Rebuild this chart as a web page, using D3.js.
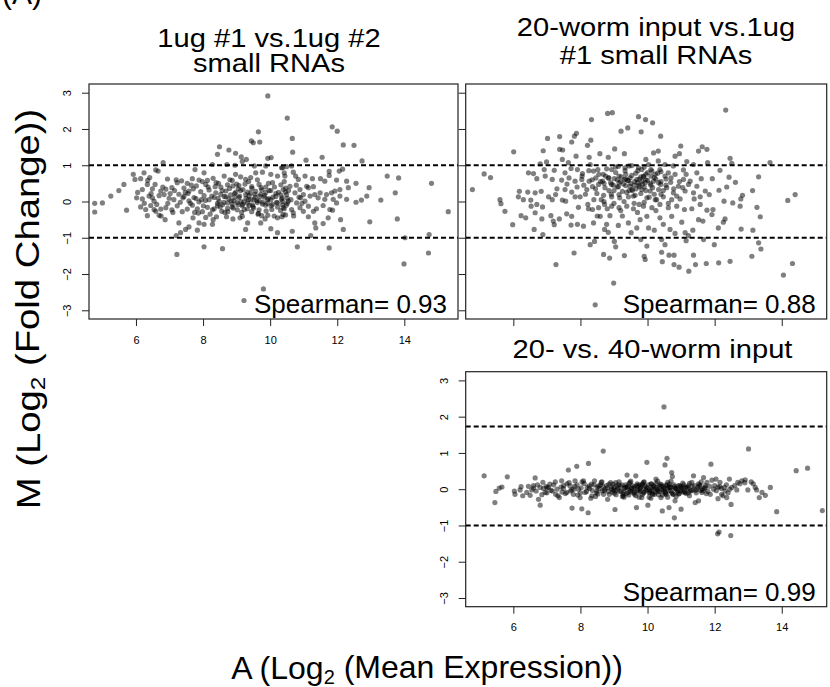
<!DOCTYPE html>
<html>
<head>
<meta charset="utf-8">
<script src="https://cdn.jsdelivr.net/npm/d3@7"></script>
<style>
  body { margin: 0; background: #fff; }
  svg { display: block; }
  text { font-family: "Liberation Sans", Arial, Helvetica, sans-serif; fill: #000; }
</style>
</head>
<body>
<svg id="chart" width="830" height="687"></svg>
<script>
// MA plots as [A, M] pairs
const rep1VsRep2 = [
  [9.93,2.91],[10.51,2.30],[11.85,2.06],[9.80,-2.41],[9.22,-2.73],[13.99,-1.72],
  [9.65,1.92],[9.44,1.67],[9.50,1.62],[9.69,1.64],[8.49,1.51],[8.43,1.30],[8.77,1.42],[8.97,1.33],[9.14,1.23],[9.29,1.16],
  [10.03,1.21],[9.93,1.19],[6.81,1.07],[8.28,1.02],[8.71,1.02],[8.95,1.00],[9.17,1.10],[9.53,0.98],[9.87,0.98],[10.37,0.93],
  [7.76,0.88],[8.03,0.79],[5.92,0.75],[6.24,0.79],[6.59,0.87],[6.66,0.84],[5.97,0.61],[6.14,0.63],[6.41,0.66],[6.94,0.62],
  [7.20,0.60],[7.36,0.57],[7.53,0.50],[7.68,0.63],[7.88,0.59],[7.98,0.55],[8.13,0.58],[8.30,0.64],[8.46,0.50],[8.63,0.70],
  [8.80,0.60],[8.97,0.75],[9.12,0.68],[9.27,0.61],[9.42,0.66],[9.57,0.79],[9.77,0.81],[10.02,0.75],[10.22,0.70],[10.42,0.79],
  [5.64,0.47],[5.49,0.30],[5.25,0.15],[5.00,-0.04],[4.77,-0.05],[4.77,-0.29],[5.72,-0.24],[6.19,0.33],[6.34,0.47],[6.49,0.35],
  [6.57,0.47],[6.74,0.29],[6.89,0.34],[7.07,0.38],[7.23,0.52],[7.43,0.37],[7.58,0.29],[7.80,0.43],[8.08,0.47],[8.18,0.32],
  [8.36,0.41],[8.53,0.40],[8.73,0.46],[8.89,0.43],[9.07,0.44],[9.25,0.48],[9.45,0.41],[9.67,0.47],[9.87,0.40],[10.07,0.52],
  [10.32,0.46],[10.46,0.37],
  [6.02,0.10],[6.19,0.07],[6.39,0.15],[6.54,0.01],[6.69,0.16],[6.84,0.19],[6.99,0.09],[7.13,0.05],[7.28,0.20],[7.43,0.14],
  [7.58,0.02],[7.73,0.11],[7.88,-0.01],[8.03,0.16],[8.18,0.05],[8.33,0.11],[8.48,0.00],[8.63,0.14],[8.77,0.07],[8.92,0.02],
  [9.07,0.11],[9.22,-0.01],[9.37,0.16],[9.52,0.05],[9.67,0.02],[9.82,0.12],[10.02,0.05],[10.17,0.14],[10.37,0.00],[10.51,0.09],
  [6.14,-0.15],[6.29,-0.22],[6.44,-0.11],[6.59,-0.27],[6.74,-0.21],[6.89,-0.17],[7.07,-0.23],[7.23,-0.12],[7.38,-0.28],[7.53,-0.21],
  [7.68,-0.10],[7.83,-0.20],[7.98,-0.28],[8.13,-0.16],[8.28,-0.23],[8.43,-0.12],[8.56,-0.27],[8.73,-0.19],[8.87,-0.15],[9.02,-0.23],
  [9.17,-0.12],[9.32,-0.20],[9.49,-0.14],[9.67,-0.23],[9.87,-0.10],[10.05,-0.22],[10.22,-0.15],[10.42,-0.20],
  [6.34,-0.39],[6.69,-0.38],[6.87,-0.50],[7.28,-0.59],[7.70,-0.45],[7.88,-0.59],[8.08,-0.44],[8.30,-0.50],[8.70,-0.42],[8.89,-0.48],
  [9.17,-0.41],[9.33,-0.59],[9.75,-0.39],[9.93,-0.38],[10.12,-0.40],[10.35,-0.42],[10.46,-0.37],[7.58,-0.70],[7.48,-0.77],[7.33,-0.86],
  [7.20,-0.94],[7.83,-0.79],[8.03,-0.63],[8.28,-0.63],[9.27,-0.77],[9.72,-0.59],[10.02,-0.75],[10.22,-0.86],[7.22,-1.46],[8.03,-1.25],
  [8.58,-1.30],[6.54,-0.22],[6.49,0.10],
  [8.38,0.24],[8.53,0.20],[8.68,0.29],[8.82,0.18],[8.97,0.25],[9.12,0.30],[9.27,0.19],[9.42,0.23],[9.57,0.28],[9.72,0.20],
  [9.87,0.25],[10.02,0.30],[10.17,0.22],[10.32,0.18],[10.46,0.26],[8.43,-0.05],[8.58,-0.09],[8.73,-0.04],[8.87,-0.07],[9.02,-0.03],
  [9.17,-0.08],[9.32,-0.05],[9.47,-0.09],[9.62,-0.03],[9.77,-0.07],[9.92,-0.05],[10.07,-0.08],[10.22,-0.04],[10.37,-0.09],[10.51,-0.05],
  [9.05,0.35],[9.35,0.05],[9.55,0.12],[9.75,0.32],[9.95,0.08],[9.15,-0.30],[9.45,-0.28],[9.65,-0.33],[8.65,-0.30],[8.95,0.12],
  [7.55,0.22],[7.62,-0.05],[7.71,0.35],[7.79,0.08],[7.86,-0.32],[7.93,0.27],[8.01,-0.12],[8.07,0.03],[8.15,0.40],[8.21,-0.35],
  [8.26,0.15],[8.33,-0.20],[8.39,0.52],[8.45,0.09],[8.51,-0.15],[8.57,0.30],[8.62,-0.02],[8.68,0.13],[8.74,-0.28],[8.79,0.36],
  [8.84,0.02],[8.90,-0.18],[8.94,0.22],[9.00,0.48],[9.04,-0.09],[9.09,0.15],[9.13,0.00],[9.19,0.33],[9.23,-0.22],[9.28,0.09],
  [9.33,0.26],[9.38,-0.10],[9.42,0.05],[9.46,0.36],[9.51,-0.18],[9.55,0.20],[9.60,0.02],[9.64,-0.35],[9.69,0.14],[9.73,0.38],
  [9.78,-0.02],[9.83,0.17],[9.88,-0.26],[9.92,0.05],[9.97,0.30],[10.03,-0.12],[10.08,0.12],[10.13,0.40],[10.19,-0.02],[10.25,0.25],
  [10.31,-0.25],[10.36,0.10],[10.42,0.55],[10.48,-0.10],[10.55,0.30],[10.62,0.05],[10.70,-0.40],[10.78,0.45],[10.86,0.12],[10.95,-0.05],
  [9.36,0.55],[9.62,0.60],[8.87,0.58],[9.95,0.50],[10.22,-0.45],[9.10,-0.45],[8.40,-0.42],[9.85,-0.48],[7.40,0.10],[7.10,-0.30],
  [6.05,0.25],[6.25,-0.05],[6.45,0.22],[6.62,-0.08],[6.80,0.40],[6.95,-0.05],[7.02,0.22],[7.15,0.30],[7.32,-0.02],[7.47,0.25],
  [7.65,0.45],[7.75,-0.30],[6.35,0.58],[6.75,-0.40],[7.95,0.05],
  [12.00,1.94],[10.66,1.74],[12.18,1.56],[12.50,1.55],[10.67,1.36],[11.55,1.22],[11.07,1.14],[12.74,1.12],[10.34,0.93],[10.49,0.96],
  [10.64,0.98],[10.69,0.81],[11.76,0.83],[12.06,0.84],[12.16,0.89],[13.49,0.70],[13.83,0.65],[14.81,0.50],[10.44,0.70],[10.76,0.70],
  [11.04,0.70],[11.26,0.63],[11.50,0.63],[11.63,0.56],[11.76,0.72],[11.98,0.59],[12.28,0.56],[12.56,0.50],[12.95,0.38],[12.33,0.38],
  [12.08,0.33],[11.93,0.29],[11.83,0.24],[11.68,0.19],[11.49,0.24],[11.33,0.19],[11.14,0.38],[10.89,0.33],[11.09,0.42],[11.29,0.41],
  [10.59,0.42],[10.39,0.33],[10.49,0.19],[10.74,0.24],[10.99,0.19],[11.19,0.15],[11.43,0.10],[11.63,0.06],[11.88,0.06],[12.08,0.15],
  [12.28,0.06],[12.56,-0.02],[12.72,0.04],[12.88,0.15],[13.30,0.04],[13.73,0.24],[10.34,0.06],[10.54,0.01],[10.79,-0.04],[11.04,0.01],
  [10.39,-0.17],[10.64,-0.22],[10.89,-0.17],[11.14,-0.13],[11.38,-0.20],[11.58,-0.11],[11.78,-0.22],[11.98,-0.04],[10.39,-0.36],[10.69,-0.31],
  [10.99,-0.27],[11.29,-0.27],[11.86,-0.24],[11.14,-0.42],[11.33,-0.59],[11.36,-0.73],[11.58,-0.61],[11.73,-0.45],[12.10,-0.50],[12.18,-0.77],
  [12.97,-0.56],[13.79,-0.48],[11.21,-0.94],[10.66,-0.82],[14.02,-1.00],[14.74,-0.91],[10.81,-1.25],[11.76,-1.28],[14.72,-1.42],[15.31,-0.28],
  [10.84,0.61],[10.91,0.10]
];

const worm20VsRep1 = [
  [8.44,-2.85],[8.99,-2.25],
  [8.81,2.43],[8.95,2.45],[8.33,2.26],[9.73,2.34],[9.21,1.94],[9.41,2.03],[7.88,1.88],[7.82,1.80],[7.74,1.64],
  [7.02,1.74],[7.38,1.79],[8.31,1.69],[8.21,1.55],[7.38,1.44],[7.47,1.42],[6.89,1.40],[6.01,1.37],[9.02,1.45],[9.31,1.32],
  [8.58,1.32],[7.87,1.25],[8.26,1.22],[8.83,1.22],[7.46,1.16],[7.64,1.07],[6.99,1.09],[6.80,1.04],[5.13,0.76],[5.32,0.66],
  [4.78,0.33],[6.45,0.79],[6.60,0.77],[6.92,0.88],[7.22,0.86],[7.54,0.79],[7.72,0.91],[7.91,0.88],[8.06,0.77],[8.29,1.02],
  [8.39,0.84],[8.52,0.88],[8.68,0.75],[8.93,0.88],[9.13,0.97],[9.33,0.93],[9.53,0.99],[9.73,0.93],[6.70,0.63],[6.95,0.70],
  [7.16,0.61],[7.44,0.59],[7.66,0.65],[7.84,0.56],[8.04,0.61],[8.26,0.56],[8.46,0.65],[8.66,0.56],[8.83,0.65],[9.01,0.63],
  [9.15,0.70],[9.31,0.61],[9.48,0.65],[9.68,0.61],[9.83,0.56],[6.18,0.28],[6.43,0.26],[6.65,0.24],[6.83,0.28],[7.05,0.13],
  [7.26,0.19],[7.54,0.33],[7.74,0.26],[7.99,0.13],[8.19,0.33],[8.36,0.41],[8.54,0.47],[8.73,0.38],[8.93,0.47],[9.13,0.41],
  [9.35,0.44],[9.53,0.33],[9.75,0.41],[8.49,0.22],[8.69,0.17],[8.93,0.13],[9.15,0.19],[9.43,0.13],[9.63,0.17],[5.60,0.05],
  [5.63,-0.06],[6.15,0.13],[6.30,0.05],[6.52,0.04],[6.53,-0.13],[6.70,-0.08],[6.87,-0.15],[7.16,0.05],[7.46,0.04],[7.56,0.01],
  [7.84,0.13],[8.22,-0.08],[8.24,-0.20],[8.36,-0.22],[8.54,-0.17],[8.72,-0.08],[8.93,-0.13],[9.15,-0.17],[9.38,-0.13],[9.58,-0.20],
  [9.75,-0.08],[5.75,-0.27],[6.23,-0.39],[6.37,-0.45],[5.98,-0.64],[6.65,-0.31],[6.85,-0.48],[7.12,-0.39],[7.19,-0.54],[7.37,-0.48],
  [7.22,-0.64],[7.59,-0.34],[7.74,-0.41],[7.94,-0.16],[7.72,-0.65],[7.91,-0.63],[8.09,-0.68],[6.62,-0.77],[6.88,-0.91],[8.39,-0.59],
  [8.59,-0.41],[8.78,-0.63],[8.88,-0.39],[9.13,-0.66],[9.43,-0.59],[9.68,-0.73],[9.78,-0.50],[8.72,-0.77],[8.83,-0.85],[9.51,-0.86],
  [8.42,-1.10],[8.29,-1.19],[9.01,-1.10],[9.05,-1.25],[9.80,-1.05],[7.81,-1.42],[8.69,-1.46],[8.87,-1.56],[9.31,-1.49],[7.27,-1.74],
  [12.33,2.52],[9.94,2.26],[10.15,2.17],[9.81,1.92],[10.39,1.80],[10.99,1.53],[11.63,1.51],[11.77,1.44],[11.52,1.39],[10.18,1.34],
  [10.32,1.39],[10.95,1.32],[10.82,1.25],[12.46,1.19],[9.95,1.16],[10.32,1.12],[11.17,1.10],[11.79,1.07],[12.51,1.05],[13.65,1.07],
  [10.03,1.02],[10.52,1.02],[10.77,0.98],[11.37,1.02],[12.16,0.86],[9.83,0.88],[10.13,0.84],[10.37,0.88],[10.62,0.79],[11.07,0.87],
  [11.47,0.79],[9.88,0.70],[10.23,0.75],[10.52,0.70],[10.82,0.75],[11.07,0.61],[11.27,0.56],[11.60,0.63],[11.93,0.63],[12.43,0.67],
  [13.31,0.68],[9.93,0.52],[10.18,0.56],[10.39,0.47],[10.69,0.53],[10.92,0.42],[11.22,0.47],[11.47,0.42],[12.36,0.40],[12.62,0.53],
  [9.83,0.33],[10.08,0.29],[10.33,0.33],[10.57,0.38],[10.77,0.24],[11.12,0.29],[11.37,0.24],[11.72,0.29],[12.13,0.31],[13.13,0.30],
  [9.98,0.10],[10.23,0.05],[10.47,0.13],[10.72,0.05],[10.97,0.07],[11.39,0.07],[11.57,0.13],[11.84,0.19],[12.28,0.01],[12.54,-0.04],
  [12.78,0.07],[12.83,0.17],[14.18,0.03],[14.40,0.19],[9.88,-0.13],[10.13,-0.17],[10.37,-0.08],[10.62,-0.17],[10.87,-0.13],[11.10,-0.22],
  [11.32,-0.20],[11.57,-0.08],[11.77,-0.24],[11.95,-0.22],[12.76,-0.13],[13.26,-0.16],[9.98,-0.41],[10.37,-0.45],[10.72,-0.41],[11.02,-0.57],
  [11.52,-0.50],[11.65,-0.54],[11.92,-0.36],[12.31,-0.48],[13.36,-0.42],[12.26,-0.57],[10.03,-0.73],[10.20,-0.79],[10.47,-0.63],[10.67,-0.77],
  [10.82,-0.88],[11.12,-0.86],[11.22,-0.94],[11.35,-0.79],[12.11,-0.73],[12.79,-0.76],[13.14,-0.79],[10.42,-1.05],[9.98,-1.23],[10.52,-1.19],
  [11.15,-1.08],[11.67,-1.05],[11.99,-1.19],[13.31,-1.14],[13.38,-1.31],[10.42,-1.40],[10.64,-1.48],[10.79,-1.48],[11.37,-1.48],[13.11,-1.51],
  [9.90,-1.51],[9.93,-1.60],[10.44,-1.66],[10.79,-1.74],[10.94,-1.81],[11.23,-1.92],[11.43,-1.74],[11.75,-1.71],[12.12,-1.69],[12.46,-1.65],
  [14.32,-1.71],[14.05,-2.03],
  [8.60,0.55],[8.75,0.70],[8.90,0.52],[9.05,0.80],[9.20,0.55],[9.35,0.75],[9.50,0.50],[9.65,0.78],[9.80,0.68],[9.95,0.60],
  [10.10,0.70],[10.25,0.62],[10.40,0.55],[10.55,0.62],[9.00,0.30],[9.25,0.28],[9.60,0.45],[9.90,0.40],[10.10,0.45],[10.40,0.20],
  [8.70,0.00],[9.00,-0.05],[9.30,0.00],[9.60,-0.05],[9.90,-0.02],[8.40,0.05],[8.10,0.45],[7.90,0.40],[7.60,0.48],[7.30,0.35],
  [9.10,0.60],[9.40,0.58],[9.70,0.52],[10.00,0.80],[10.30,0.78],[8.85,0.30],[9.45,0.30],[10.20,0.20],[8.50,-0.40],[9.25,-0.40],
  [8.05,0.70],[8.15,0.20],[8.25,0.85],[8.35,0.60],[8.45,0.35],[8.55,0.75],[8.62,0.05],[8.70,0.50],[8.78,0.90],[8.85,0.65],
  [8.92,0.20],[8.98,0.45],[9.05,0.95],[9.10,0.40],[9.17,0.10],[9.22,0.68],[9.28,0.48],[9.33,0.85],[9.38,0.25],[9.43,0.58],
  [9.48,0.42],[9.53,0.72],[9.58,0.15],[9.62,0.55],[9.66,0.35],[9.71,0.85],[9.76,0.62],[9.80,0.22],[9.85,0.48],[9.90,0.95],
  [9.95,0.30],[10.00,0.58],[10.05,0.12],[10.10,0.88],[10.15,0.38],[10.20,0.66],[10.27,0.05],[10.33,0.52],[10.40,0.82],[10.47,0.30],
  [10.55,0.45],[10.62,-0.05],[10.70,0.65],[10.78,0.35],[10.87,0.15],[10.95,0.55],[11.05,0.38],[11.15,0.75],[9.20,-0.25],[9.70,-0.30],
  [10.25,-0.25],[8.80,-0.20],[9.45,0.98],[9.95,0.75],[9.35,0.62],[9.55,0.30],[9.75,0.45],[9.88,0.68],[10.08,0.50],[9.15,0.52]
];

const worm20VsWorm40 = [
  [10.49,2.27],[13.01,1.11],[8.68,1.05],[14.43,0.51],[14.77,0.58],[15.21,-0.59],[13.85,-0.62],[12.09,-1.23],[12.13,-1.18],[12.48,-1.28],
  [5.13,0.37],[5.45,-0.37],[5.48,-0.06],[5.58,0.03],[5.66,0.06],[5.82,0.34],[6.03,-0.05],[6.05,-0.14],[6.23,0.07],[6.28,-0.18],
  [6.40,-0.09],[6.50,-0.17],[6.60,0.03],[6.65,0.31],[6.68,-0.05],[6.75,-0.28],[6.80,-0.44],[6.88,0.19],[6.95,-0.09],[7.01,0.04],
  [7.09,0.14],[7.16,-0.05],[7.26,-0.14],[7.37,-0.23],[7.44,0.23],[7.49,0.02],[7.59,-0.09],[7.64,0.53],[7.69,0.09],[7.75,-0.52],
  [7.79,-0.14],[7.84,0.23],[7.89,0.63],[7.94,0.00],[7.99,-0.23],[8.04,-0.54],[8.09,0.23],[8.14,-0.09],[8.23,-0.65],[8.24,0.71],
  [8.26,0.09],[8.34,-0.18],[8.42,0.23],[8.49,-0.05],[8.54,0.09],[8.62,0.19],[8.69,-0.14],[8.73,0.00],[8.81,-0.28],[8.85,0.14],
  [8.93,0.00],[9.01,-0.11],[9.03,-0.56],[9.08,0.09],[9.15,0.20],[9.21,-0.05],[9.28,-0.18],[9.33,0.05],[9.39,0.39],[9.43,-0.09],
  [9.48,0.19],[9.53,0.00],[9.61,-0.14],[9.65,0.37],[9.67,-0.51],[9.71,0.09],[9.78,-0.05],[9.83,-0.23],[9.88,0.19],[9.93,0.00],
  [9.98,0.74],[10.01,-0.44],[10.05,-0.09],[10.11,0.14],[10.15,0.05],[10.21,-0.14],[10.25,0.28],[10.31,-0.05],[10.35,0.09],[10.40,-0.23],
  [10.44,-0.60],[10.47,0.00],[10.52,0.67],[10.54,-0.09],[10.58,0.85],[10.60,0.19],[10.64,-0.51],[10.67,0.05],[10.72,0.46],[10.74,0.35],
  [10.77,-0.14],[10.80,-0.79],[10.82,-0.32],[10.85,0.00],[10.92,0.09],[10.97,-0.05],[11.00,-0.55],[11.07,0.05],[11.12,-0.09],[11.22,0.09],
  [11.27,-0.05],[11.32,0.19],[11.37,0.37],[11.42,-0.37],[11.47,0.00],[11.52,-0.32],[11.57,0.09],[11.62,-0.09],[11.67,0.32],[11.72,0.05],
  [11.77,0.19],[11.87,-0.14],[11.89,0.69],[11.97,0.00],[12.04,0.28],[12.10,-0.26],[12.16,0.19],[12.21,-0.14],[12.29,0.05],[12.31,-0.05],
  [12.36,-0.23],[12.44,0.28],[12.49,-0.42],[12.51,0.05],[12.66,-0.02],[12.69,0.19],[12.81,0.23],[12.91,0.26],[12.99,-0.02],[13.09,0.20],
  [13.21,0.05],[13.33,-0.23],[13.41,-0.09],[13.51,-0.17],[13.66,0.05],
  [9.00,0.05],[9.10,-0.02],[9.20,0.08],[9.30,-0.08],[9.40,0.04],[9.50,-0.06],[9.60,0.06],[9.70,-0.03],[9.80,0.07],[9.90,-0.08],
  [10.00,0.03],[10.10,-0.05],[10.20,0.06],[10.30,-0.02],[10.40,0.08],[10.50,-0.06],[10.60,0.03],[10.70,-0.04],[10.80,0.07],[10.90,-0.03],
  [11.00,0.04],[11.10,-0.06],[11.20,0.02],[11.35,-0.02],[11.50,0.06],[11.65,-0.04],[8.20,0.05],[8.35,-0.03],[8.50,0.06],[8.65,-0.05],
  [8.80,0.04],[8.95,-0.08],[7.50,0.10],[7.70,-0.05],[7.90,0.12],[8.00,-0.10],[7.20,0.12],[7.00,-0.10],[6.80,0.05],[6.60,0.10],
  [9.05,0.18],[9.45,0.16],[9.85,0.15],[10.25,0.16],[10.65,0.14],[11.05,0.17],[9.25,-0.20],[9.65,-0.18],[10.05,-0.22],[10.45,-0.16],
  [10.85,-0.20],[11.25,-0.18],[8.45,-0.20],[8.05,0.20],[11.60,0.20],[12.00,0.10],[12.20,0.02],[12.40,-0.10],[9.35,0.12],[9.75,0.12],
  [10.15,-0.12],[10.55,0.12],[10.95,-0.12],[8.60,0.12],[8.90,0.18],[7.30,0.00],[7.60,0.15],[6.90,0.02],[11.80,-0.06],[12.10,0.06],
  [6.55,-0.02],[6.72,0.12],[6.85,-0.15],[6.98,0.08],[7.12,-0.03],[7.25,0.20],[7.33,-0.18],[7.42,0.06],[7.55,-0.12],[7.66,0.18],
  [7.74,-0.02],[7.83,0.08],[7.92,-0.16],[8.02,0.04],[8.11,0.16],[8.18,-0.06],[8.27,0.02],[8.31,-0.25],[8.40,0.12],[8.47,-0.10],
  [8.56,0.02],[8.64,0.20],[8.71,-0.04],[8.78,0.10],[8.86,-0.14],[8.92,0.06],[8.98,-0.02],[9.06,-0.15],[9.12,0.04],[9.18,-0.06],
  [9.24,0.12],[9.31,0.02],[9.37,-0.12],[9.42,0.08],[9.47,-0.03],[9.55,0.10],[9.58,-0.10],[9.63,0.01],[9.69,0.15],[9.74,-0.08],
  [9.79,0.03],[9.85,-0.14],[9.91,0.09],[9.96,-0.03],[10.03,0.12],[10.07,-0.10],[10.13,0.00],[10.18,0.10],[10.23,-0.08],[10.28,0.04],
  [10.33,-0.15],[10.38,0.14],[10.43,-0.02],[10.48,0.07],[10.53,-0.12],[10.58,0.10],[10.63,-0.04],[10.69,0.05],[10.75,-0.13],[10.79,0.12],
  [10.84,0.02],[10.89,-0.08],[10.95,0.10],[11.02,-0.02],[11.08,0.12],[11.15,-0.12],[11.18,0.05],[11.25,0.16],[11.30,-0.04],[11.40,0.10],
  [11.45,-0.10],[11.55,0.12],[11.58,-0.03],[11.70,0.02],[11.75,-0.12],[11.85,0.08],[11.92,0.25],[12.05,-0.04],[12.15,0.07],[12.25,-0.18],
  [12.35,0.12],[12.45,0.00],[9.50,0.22],[9.90,0.20],[10.30,0.22],[10.70,0.22],[9.30,-0.22],[9.75,-0.22],[10.10,-0.25],[10.60,-0.22],
  [8.33,0.14],[8.52,-0.13],[8.67,0.08],[8.83,-0.06],[8.97,0.14],[9.04,-0.04],[9.14,0.12],[9.27,-0.13],[9.36,0.06],[9.44,-0.16],
  [9.52,0.04],[9.61,-0.08],[9.67,0.09],[9.77,0.00],[9.83,0.12],[9.88,-0.10],[9.97,0.06],[10.05,-0.02],[10.11,0.15],[10.16,-0.14],
  [10.26,0.00],[10.36,-0.06],[10.42,0.12],[10.51,0.02],[10.56,-0.14],[10.66,0.08],[10.72,-0.10],[10.82,0.03],[10.92,-0.13],[10.99,0.08],
  [11.06,-0.08],[11.13,0.06],[11.22,-0.10],[11.33,0.08],[11.43,-0.03],[11.52,0.15],[11.63,0.00],[11.73,0.10],[7.45,-0.08],[7.80,0.00],
  [7.05,0.05],[6.45,0.08],[6.20,-0.02],[12.60,0.10],[12.75,0.15],[12.90,0.18],[13.15,0.15],[13.25,-0.02]
];

const panelTitles = [
  ["1ug #1 vs.1ug #2", "small RNAs"],
  ["20-worm input vs.1ug", "#1 small RNAs"],
  ["20- vs. 40-worm input"]
];
const spearman = ["0.93", "0.88", "0.99"];
const cutLines = [[1, -1], [1, -1], [1.73, -1]];
const xTickValues = [6, 8, 10, 12, 14];
const yTickValues = [-3, -2, -1, 0, 1, 2, 3];
const yDomain = [-3.24, 3.24];

const svg = d3.select('#chart');

// box positions measured on the page
const panels = [
  {data: rep1VsRep2, box: [89, 458, 84, 319], xDomain: [4.6, 15.6], xLabels: true, yLabels: true,
   titleX: 269, titleY: [46.7, 71.7]},
  {data: worm20VsRep1, box: [465.7, 826.7, 84, 319], xDomain: [4.58, 15.34], xLabels: false, yLabels: false,
   titleX: 656, titleY: [36, 64]},
  {data: worm20VsWorm40, box: [465.7, 826.7, 371.7, 606.7], xDomain: [4.58, 15.34], xLabels: true, yLabels: true,
   titleX: 652.5, titleY: [358.3]}
];

panels.forEach((p, i) => {
  const [left, right, top, bottom] = p.box;
  const x = d3.scaleLinear().domain(p.xDomain).range([left, right]);
  const y = d3.scaleLinear().domain(yDomain).range([bottom, top]);
  const g = svg.append('g');

  g.append('g').selectAll('circle')
    .data(p.data)
    .join('circle')
    .attr('cx', d => x(d[0]))
    .attr('cy', d => y(d[1]))
    .attr('r', 2.6)
    .attr('fill', 'rgba(0,0,0,0.5)');

  g.selectAll('line.cut')
    .data(cutLines[i])
    .join('line')
    .attr('class', 'cut')
    .attr('x1', left).attr('x2', right)
    .attr('y1', d => y(d)).attr('y2', d => y(d))
    .attr('stroke', '#000')
    .attr('stroke-width', 2)
    .attr('stroke-dasharray', '5,3');

  g.append('rect')
    .attr('x', left).attr('y', top)
    .attr('width', right - left).attr('height', bottom - top)
    .attr('fill', 'none').attr('stroke', '#222').attr('stroke-width', 1.2);

  const xAxis = g.append('g')
    .attr('transform', `translate(0,${bottom})`)
    .call(d3.axisBottom(x).tickValues(xTickValues).tickSize(7).tickPadding(10).tickFormat(p.xLabels ? d3.format('d') : ''));
  const yAxis = g.append('g')
    .attr('transform', `translate(${left},0)`)
    .call(d3.axisLeft(y).tickValues(yTickValues).tickSize(7).tickFormat(p.yLabels ? d => d3.format('d')(d).replace('-', '\u2212') : ''));
  [xAxis, yAxis].forEach(a => {
    a.select('.domain').remove();
    a.selectAll('line').attr('stroke', '#222');
    a.selectAll('text').style('font-family', '"Liberation Sans", Arial, sans-serif').style('font-size', '11px').attr('fill', '#000');
  });
  yAxis.selectAll('text')
    .attr('x', 0).attr('y', 0).attr('dy', '0.35em')
    .attr('text-anchor', 'middle')
    .attr('transform', 'translate(-22,0) rotate(-90)');

  // titles are a little wider than Arial at their height, so stretch them
  p.titleY.forEach((ty, k) => {
    svg.append('text')
      .attr('transform', `translate(${p.titleX},${ty}) scale(1.12,1)`)
      .attr('text-anchor', 'middle')
      .style('font-size', '26px')
      .text(panelTitles[i][k]);
  });

  svg.append('text')
    .attr('x', right - 11).attr('y', bottom - 6)
    .attr('text-anchor', 'end')
    .style('font-size', '26px')
    .text('Spearman= ' + spearman[i]);
});

// panel letter, mostly cut off at the top edge in the original
svg.append('text')
  .attr('x', 2).attr('y', 4)
  .style('font-size', '30px')
  .text('(A)');

// shared axis titles
const yTitle = svg.append('text')
  .attr('transform', 'translate(40,309) rotate(-90) scale(1.16,1)')
  .attr('text-anchor', 'middle')
  .style('font-size', '33px');
yTitle.append('tspan').text('M (Log');
yTitle.append('tspan').attr('dy', '0.25em').style('font-size', '21px').text('2');
yTitle.append('tspan').attr('dy', '-0.18em').text(' (Fold Change))');

const xTitle = svg.append('text')
  .attr('x', 427).attr('y', 679)
  .attr('text-anchor', 'middle')
  .style('font-size', '32px');
xTitle.append('tspan').text('A (Log');
xTitle.append('tspan').attr('dy', '0.25em').style('font-size', '20px').text('2');
xTitle.append('tspan').attr('dy', '-0.18em').text(' (Mean Expression))');
</script>
</body>
</html>
